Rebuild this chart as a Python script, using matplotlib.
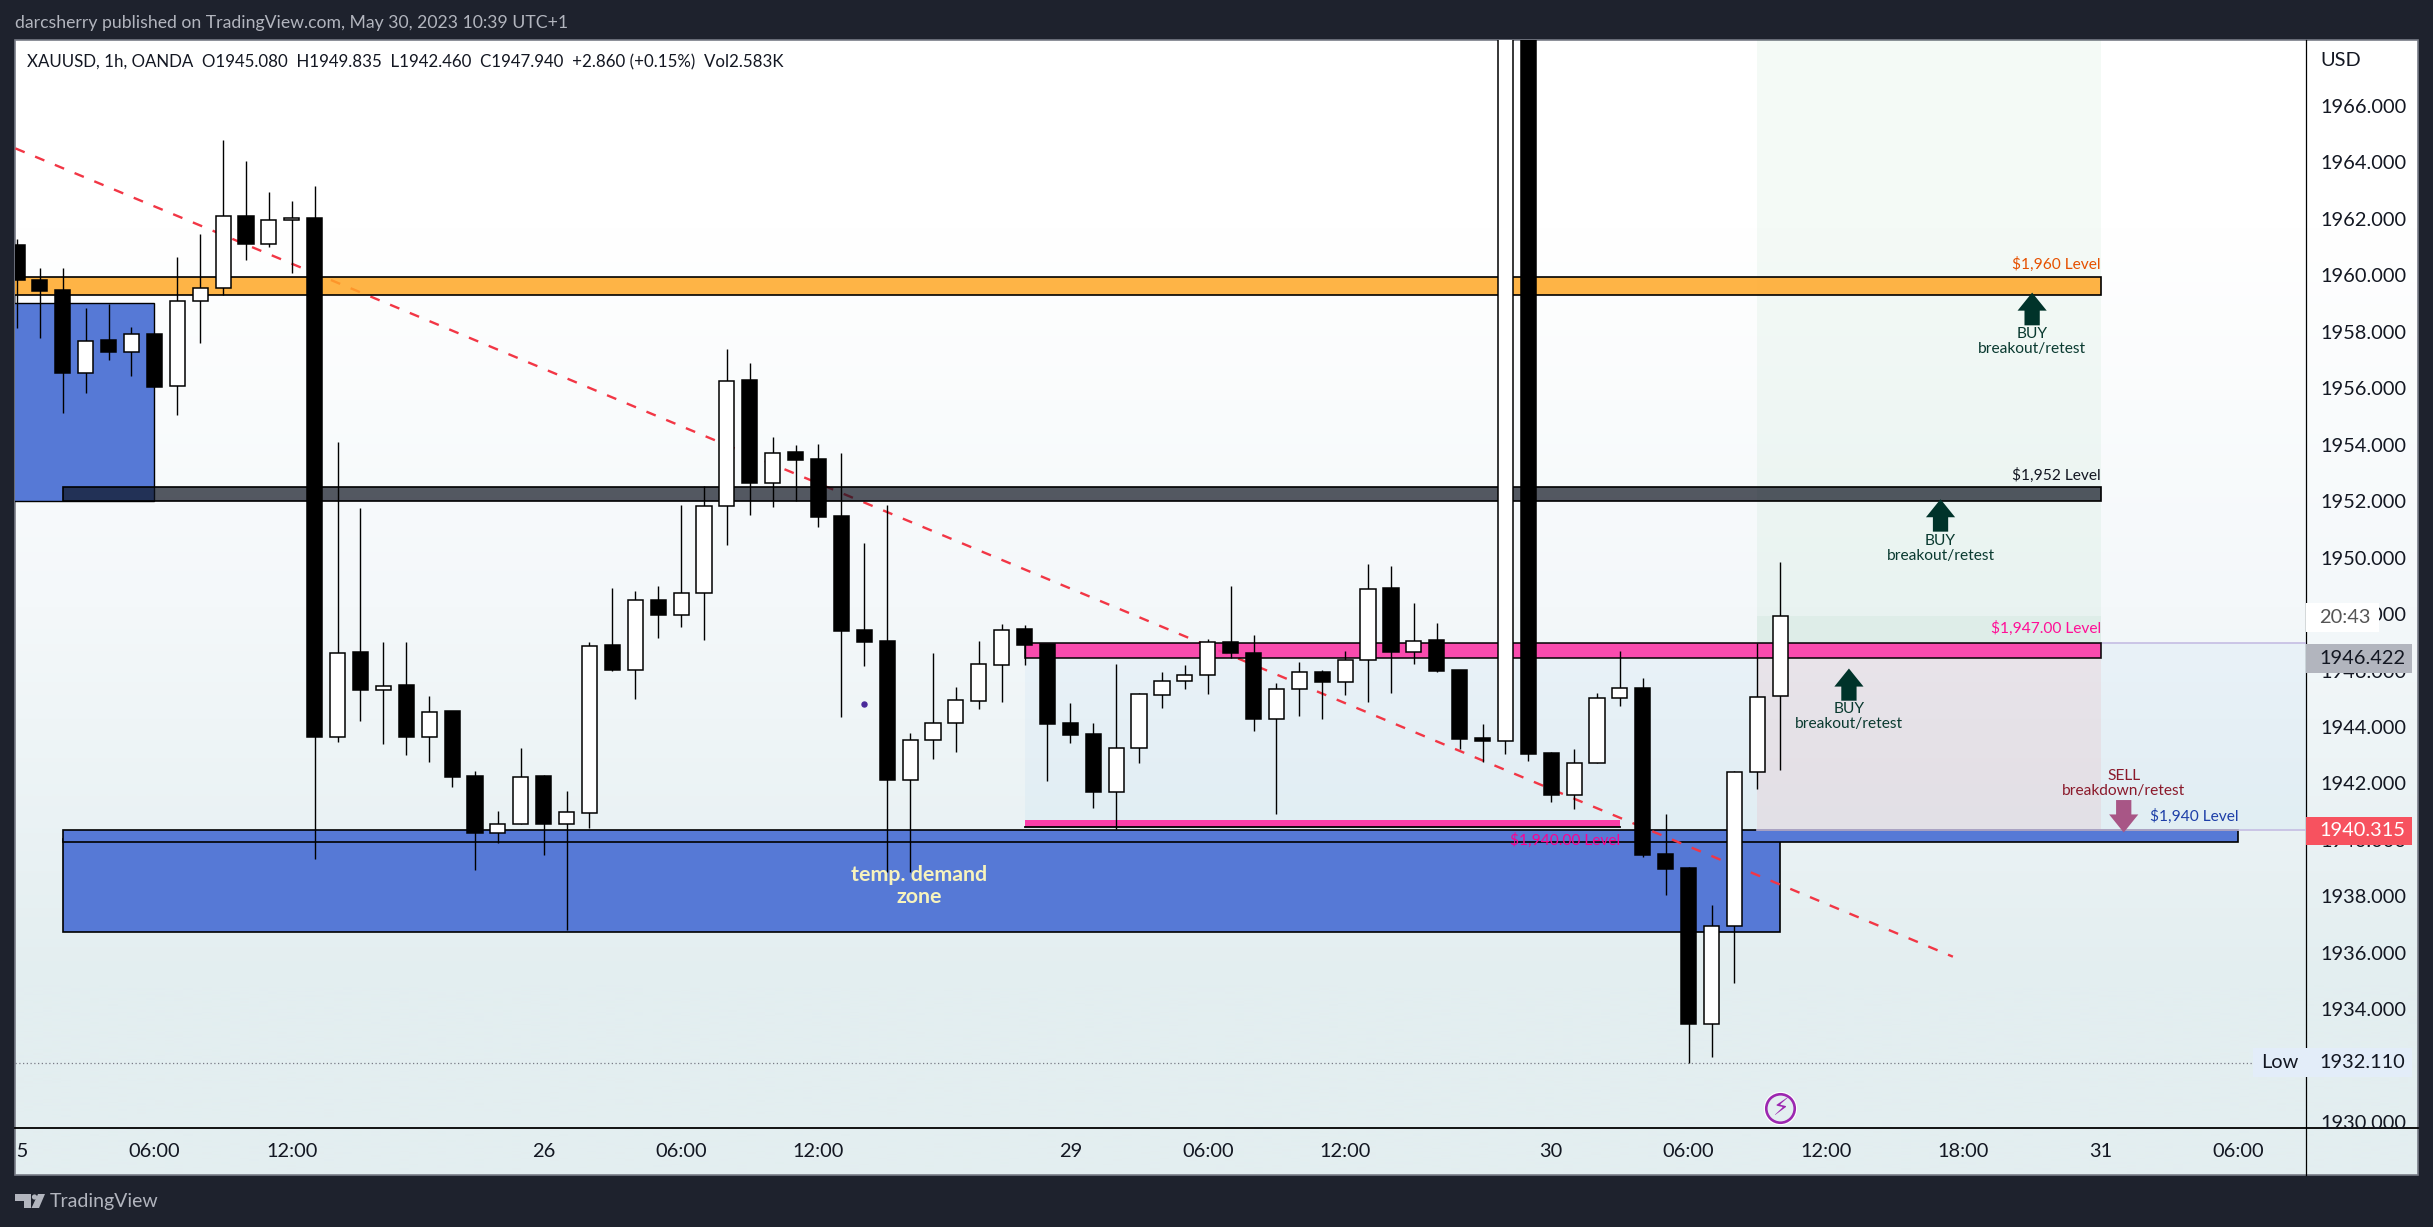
import matplotlib
matplotlib.use("Agg")
import matplotlib.pyplot as plt
import numpy as np
from matplotlib.patches import Rectangle, Polygon
from matplotlib.transforms import Bbox

plt.rcParams['font.family'] = ['Lato', 'DejaVu Sans']

# hourly candles, XAUUSD 1h OANDA
opens = [1961.06, 1959.83, 1959.47, 1956.55, 1957.70, 1957.29, 1957.94, 1956.07, 1959.09, 1959.54,
         1962.11, 1961.11, 1961.96, 1962.05, 1943.64, 1946.65, 1945.32, 1945.48, 1943.64, 1944.56,
         1942.26, 1940.25, 1940.57, 1942.26, 1940.57, 1940.95, 1946.90, 1946.02, 1948.51, 1947.97,
         1948.74, 1951.82, 1956.28, 1952.63, 1953.73, 1953.48, 1951.46, 1947.43, 1947.04, 1942.12,
         1943.55, 1944.15, 1944.92, 1946.20, 1947.46, 1946.93, 1944.13, 1943.74, 1941.70, 1943.26,
         1945.13, 1945.64, 1945.85, 1947.02, 1946.63, 1944.28, 1945.35, 1945.96, 1945.60, 1946.38,
         1948.91, 1946.66, 1947.07, 1946.01, 1943.60, 1943.51, 1975.20, 1943.07, 1941.59, 1942.72,
         1945.04, 1945.39, 1939.49, 1938.99, 1933.49, 1936.96, 1942.39, 1945.08]
highs = [1961.30, 1960.25, 1960.25, 1958.86, 1958.97, 1958.16, 1957.94, 1960.64, 1961.45, 1964.78,
         1964.04, 1962.94, 1962.62, 1963.15, 1954.08, 1951.75, 1947.00, 1947.00, 1945.09, 1944.56,
         1942.43, 1941.02, 1943.25, 1942.29, 1941.73, 1947.00, 1948.91, 1948.81, 1948.99, 1951.85,
         1952.53, 1957.38, 1956.88, 1954.26, 1953.98, 1954.01, 1953.70, 1950.51, 1951.87, 1943.78,
         1946.63, 1945.41, 1947.04, 1947.64, 1947.60, 1946.93, 1944.84, 1944.13, 1946.24, 1945.20,
         1945.94, 1946.19, 1947.11, 1948.98, 1947.25, 1945.55, 1946.29, 1946.03, 1946.68, 1949.76,
         1949.69, 1948.38, 1947.67, 1946.01, 1944.10, 1977.00, 1976.00, 1943.11, 1943.23, 1945.20,
         1946.68, 1945.73, 1940.91, 1939.03, 1937.69, 1942.45, 1946.99, 1949.835]
lows = [1958.12, 1957.77, 1955.11, 1955.83, 1956.99, 1956.44, 1956.04, 1955.04, 1957.59, 1959.30,
        1960.53, 1960.99, 1960.10, 1939.32, 1943.46, 1944.20, 1943.39, 1943.00, 1942.75, 1941.87,
        1938.93, 1939.88, 1940.57, 1939.46, 1936.80, 1940.42, 1945.98, 1944.98, 1947.14, 1947.53,
        1947.07, 1950.44, 1951.50, 1951.78, 1951.99, 1951.07, 1944.35, 1946.15, 1938.86, 1938.86,
        1942.86, 1943.11, 1944.63, 1944.88, 1946.19, 1942.08, 1943.42, 1941.12, 1940.38, 1942.72,
        1944.66, 1945.34, 1945.16, 1946.45, 1943.85, 1940.91, 1944.38, 1944.28, 1945.13, 1944.88,
        1945.20, 1946.22, 1945.94, 1943.21, 1942.75, 1943.04, 1942.79, 1941.34, 1941.10, 1942.72,
        1944.75, 1939.39, 1938.03, 1932.11, 1932.29, 1934.93, 1941.81, 1942.46]
closes = [1959.83, 1959.45, 1956.55, 1957.68, 1957.29, 1957.94, 1956.04, 1959.09, 1959.54, 1962.11,
          1961.11, 1961.96, 1962.05, 1943.64, 1946.63, 1945.32, 1945.46, 1943.64, 1944.54, 1942.23,
          1940.25, 1940.57, 1942.24, 1940.57, 1940.97, 1946.87, 1946.01, 1948.51, 1947.96, 1948.74,
          1951.82, 1956.27, 1952.63, 1953.72, 1953.45, 1951.45, 1947.39, 1947.00, 1942.12, 1943.55,
          1944.15, 1944.94, 1946.22, 1947.44, 1946.91, 1944.11, 1943.72, 1941.69, 1943.27, 1945.15,
          1945.64, 1945.85, 1947.02, 1946.63, 1944.28, 1945.36, 1945.96, 1945.59, 1946.38, 1948.90,
          1946.65, 1947.05, 1945.98, 1943.57, 1943.50, 1975.00, 1943.04, 1941.58, 1942.74, 1945.04,
          1945.39, 1939.46, 1938.98, 1933.49, 1936.96, 1942.39, 1945.07, 1947.94]

tick_pos = [0, 6, 12, 23, 29, 35, 46, 52, 58, 67, 73, 79, 85, 91, 97]
tick_labels = ["25", "06:00", "12:00", "26", "06:00", "12:00", "29", "06:00", "12:00",
               "30", "06:00", "12:00", "18:00", "31", "06:00"]
price_ticks = list(range(1930, 1968, 2))

trend_x = [-0.07, 84.54]
trend_y = [1964.50, 1935.86]
low_price = 1932.11

W, H = 2433, 1227
fig = plt.figure(figsize=(W / 100, H / 100), dpi=100, facecolor="#1e222d")

# frame, gradient and furniture in pixel coordinates
bg = fig.add_axes([0, 0, 1, 1], zorder=0)
grad = np.array([[255, 255, 255], [244, 248, 250], [227, 238, 240]]) / 255
bg.imshow(grad[:, None, :], extent=[15, 2418, 1175, 40], aspect="auto", interpolation="bilinear", zorder=1)
bg.set_xlim(0, W)
bg.set_ylim(H, 0)
bg.axis("off")
bg.add_patch(Rectangle((15, 40), 2403, 1135, fc="none", ec="#787b86", lw=1.2, zorder=2))
bg.plot([15, 2418], [1128, 1128], color="black", lw=1.3, zorder=3)
bg.plot([2306, 2306], [40, 1175], color="black", lw=0.9, zorder=3)
bg.text(15, 23, "darcsherry published on TradingView.com, May 30, 2023 10:39 UTC+1",
        color="#b2b5be", fontsize=12.7, va="center", ha="left")
bg.text(50, 1202, "TradingView", color="#b2b5be", fontsize=14, va="center", ha="left")
# logo
bg.add_patch(Polygon([(15, 1194), (31, 1194), (31, 1208), (24, 1208), (24, 1201), (15, 1201)], fc="#b2b5be", ec="none"))
bg.add_patch(plt.Circle((34.5, 1197), 2.6, fc="#b2b5be", ec="none"))
bg.add_patch(Polygon([(38, 1194), (45, 1194), (39, 1208), (31.5, 1208)], fc="#b2b5be", ec="none"))

ax = fig.add_axes([15 / W, 1 - 1128 / H, 2291 / W, 1088 / H], zorder=1)
ax.patch.set_alpha(0)
ax.set_xlim(-0.087, 99.96)
ax.set_ylim(1929.79, 1968.34)
for s in ax.spines.values():
    s.set_visible(False)

ax.yaxis.tick_right()
ax.set_yticks(price_ticks, [f"{p}.000" for p in price_ticks])
ax.set_xticks(tick_pos, tick_labels)
ax.tick_params(axis="y", length=0, pad=10, labelsize=14.4, labelcolor="#131722")
ax.tick_params(axis="x", length=0, pad=11, labelsize=14.4, labelcolor="#131722")
clip_box = Bbox([[17, 0], [W, H]])
for lab in ax.get_xticklabels():
    lab.set_clip_box(clip_box)
    lab.set_clip_on(True)

ytr = ax.get_yaxis_transform()
ax.text(1.0061, 1967.6, "USD", transform=ytr, fontsize=14.4, color="#131722", va="center", ha="left", clip_on=False)
ax.text(0.0052, 1967.53, "XAUUSD, 1h, OANDA  O1945.080  H1949.835  L1942.460  C1947.940  +2.860 (+0.15%)  Vol2.583K",
        transform=ytr, fontsize=12.2, color="#131722", va="center", ha="left")

BLUE = "#5679d6"
# zones under the trend line
ax.add_patch(Rectangle((-1, 1952.0), 7, 7.02, fc=BLUE, ec="black", lw=1, zorder=1))
ax.add_patch(Rectangle((2, 1936.75), 75, 3.27, fc=BLUE, ec="black", lw=1.2, zorder=1))
ax.add_patch(Rectangle((2, 1939.92), 95, 0.44, fc=BLUE, ec="black", lw=1.2, zorder=1.1))
ax.add_patch(Rectangle((44, 1940.36), 56, 6.62, fc="#2196f3", alpha=0.045, ec="none", zorder=0.5))
ax.add_patch(Rectangle((76, 1946.98), 15, 22, fc="#2e9e5b", alpha=0.05, ec="none", zorder=0.6))
ax.add_patch(Rectangle((76, 1946.98), 15, 0.96, fc="#2e9e5b", alpha=0.05, ec="none", zorder=0.6))
ax.add_patch(Rectangle((76, 1940.36), 15, 6.09, fc="#f23645", alpha=0.075, ec="none", zorder=0.6))
ax.plot([91, 100], [1946.98, 1946.98], color="#c5bde3", lw=1.2, zorder=0.7)
ax.plot([76, 100], [1940.36, 1940.36], color="#c5bde3", lw=1.2, zorder=1.2)
ax.axhline(low_price, color="#787b86", lw=0.9, ls=(0, (1, 2)), zorder=0.7)

# trend line
ax.plot(trend_x, trend_y, color="#f23645", lw=1.7, ls=(0, (4.25, 4.8)), zorder=1.5)

# level bands above the trend line
ax.add_patch(Rectangle((-1, 1959.32), 92, 0.64, fc="#ffa726", alpha=0.85, ec="none", zorder=2))
ax.add_patch(Rectangle((-1, 1959.32), 92, 0.64, fc="none", ec="black", lw=1.2, zorder=2))
ax.add_patch(Rectangle((2, 1952.0), 89, 0.5, fc=(13 / 255, 19 / 255, 32 / 255), alpha=0.7, ec="none", zorder=2))
ax.add_patch(Rectangle((2, 1952.0), 89, 0.5, fc="none", ec="black", lw=1.2, zorder=2))
ax.add_patch(Rectangle((44, 1946.45), 47, 0.53, fc="#fb3da8", alpha=0.92, ec="black", lw=1.2, zorder=2))
ax.add_patch(Rectangle((44, 1940.46), 26, 0.23, fc="#fb3da8", ec="none", zorder=2))
ax.plot([44, 70], [1940.46, 1940.46], color="black", lw=1.3, zorder=2)

# candles
x = np.arange(len(opens))
o, h, l, c = map(np.array, (opens, highs, lows, closes))
up = c >= o
ax.vlines(x, l, h, color="black", lw=1.0, zorder=3)
ax.bar(x, np.abs(c - o), bottom=np.minimum(o, c), width=0.66, color=np.where(up, "white", "black"),
       edgecolor="black", linewidth=1.1, zorder=3.1)

ax.plot([37], [1944.81], "o", color="#4a2a9a", ms=3.6, zorder=3)

# labels on the chart
LBL = 11.2
ax.text(91, 1960.40, "$1,960 Level", color="#e65100", fontsize=LBL, ha="right", va="center", zorder=4)
ax.text(91, 1952.91, "$1,952 Level", color="#131722", fontsize=LBL, ha="right", va="center", zorder=4)
ax.text(91, 1947.48, "$1,947.00 Level", color="#ff0f97", fontsize=LBL, ha="right", va="center", zorder=4)
ax.text(97, 1940.82, "$1,940 Level", color="#1e3fa8", fontsize=LBL, ha="right", va="center", zorder=4)
ax.text(70, 1939.99, "$1,940.00 Level", color="#ff0090", fontsize=LBL, ha="right", va="center", zorder=4)
ax.text(39.4, 1938.75, "temp. demand", color="#f7f3bd", fontsize=15.4, fontweight="bold", ha="center", va="center", zorder=4)
ax.text(39.4, 1937.97, "zone", color="#f7f3bd", fontsize=15.4, fontweight="bold", ha="center", va="center", zorder=4)

GREEN = "#00332a"
arrows = [(88, 1959.39, 1958.23), (84, 1952.07, 1950.92), (80, 1946.07, 1944.93)]
buy_text_y = [(1957.94, 1957.38), (1950.58, 1950.05), (1944.65, 1944.10)]
for (k, tip, tail), (y1, y2) in zip(arrows, buy_text_y):
    ax.annotate("", xy=(k, tip), xytext=(k, tail), zorder=4,
                arrowprops=dict(width=11, headwidth=21, headlength=13, shrink=0, color=GREEN, lw=0))
    ax.text(k, y1, "BUY", color="#0a3a30", fontsize=LBL, ha="center", va="center", zorder=4)
    ax.text(k, y2, "breakout/retest", color="#0a3a30", fontsize=LBL, ha="center", va="center", zorder=4)

ax.annotate("", xy=(92, 1940.26), xytext=(92, 1941.41), zorder=4,
            arrowprops=dict(width=11, headwidth=21, headlength=13, shrink=0, color="#a85686", lw=0))
ax.text(92, 1942.27, "SELL", color="#8b1a2b", fontsize=LBL, ha="center", va="center", zorder=4)
ax.text(92, 1941.72, "breakdown/retest", color="#8b1a2b", fontsize=LBL, ha="center", va="center", zorder=4)

# lightning icon at the last bar
ax.plot([77], [1930.5], "o", ms=23, mfc="white", mec="white", mew=1, zorder=4)
ax.plot([77], [1930.5], "o", ms=20.5, mfc="#e3eef0", mec="#9c27b0", mew=1.9, zorder=4.1)
ax.text(77, 1930.5, "\u26a1", family="DejaVu Sans", color="#9c27b0", fontsize=17, ha="center", va="center", zorder=4.2)

# price scale labels
box_prices = [1947.89, 1946.42, 1940.315]
box_text = ["20:43", "1946.422", "1940.315"]
box_width = [73 / 2291, 106 / 2291, 106 / 2291]
box_fill = ["white", "#b2b5be", "#f7525f"]
box_color = ["#555555", "#131722", "white"]
box_pos = [39 / 2291, 56 / 2291, 56 / 2291]
for p, t, w, fc, tc, tx in zip(box_prices, box_text, box_width, box_fill, box_color, box_pos):
    ax.add_patch(Rectangle((1.0, p - 0.51), w, 1.02, transform=ytr, fc=fc, ec="none", clip_on=False, zorder=6))
    ax.text(1.0 + tx, p, t, transform=ytr, color=tc, fontsize=14.4, ha="center", va="center", clip_on=False, zorder=7)
ax.add_patch(Rectangle((1 - 53.5 / 2291, low_price - 0.51), 159.5 / 2291, 1.02, transform=ytr, fc="#e3edf9",
                       ec="none", clip_on=False, zorder=6))
ax.text(1 - 26 / 2291, low_price, "Low", transform=ytr, color="#131722", fontsize=14.4, ha="center", va="center",
        clip_on=False, zorder=7)
ax.text(1 + 56 / 2291, low_price, "1932.110", transform=ytr, color="#131722", fontsize=14.4, ha="center", va="center",
        clip_on=False, zorder=7)

fig.savefig("out.png", dpi=100, facecolor=fig.get_facecolor())
